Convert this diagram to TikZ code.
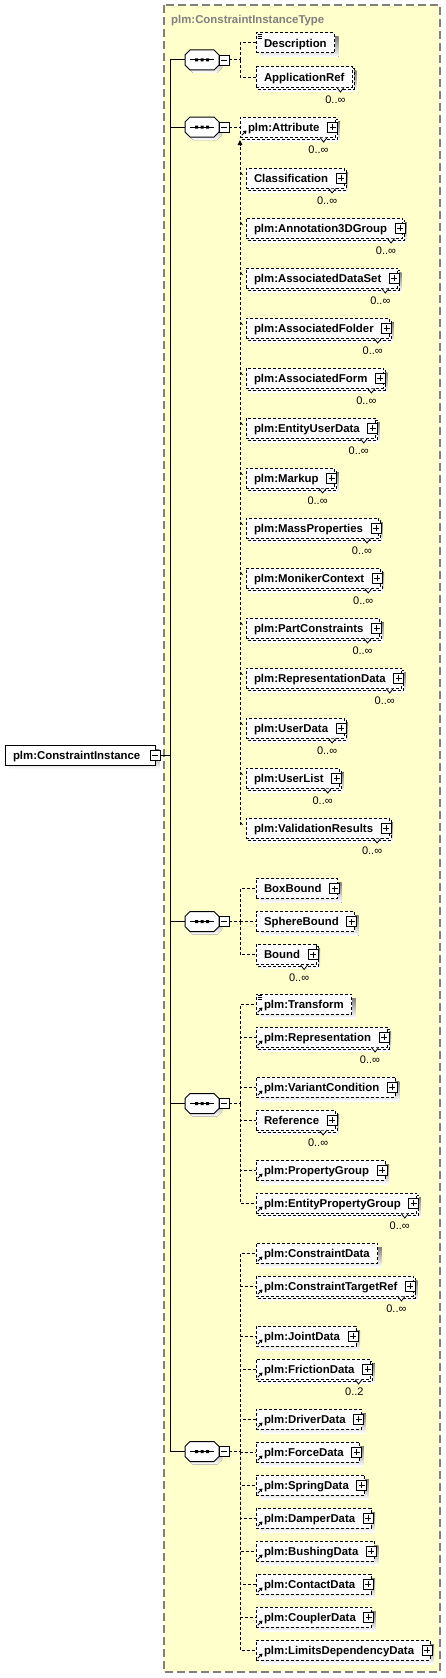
\documentclass[tikz,border=0pt]{standalone}
\usepackage{fontspec}
\setmainfont{Liberation Sans}
\usetikzlibrary{calc,arrows.meta}
\pgfdeclarelayer{bgyellow}
\pgfdeclarelayer{background}
\pgfsetlayers{bgyellow,background,main}
\definecolor{paleyellow}{RGB}{255,255,204}
\definecolor{shade}{RGB}{192,192,192}
\definecolor{framegray}{RGB}{128,128,128}

\newcommand\pp{\hspace*{8pt}}
\newcommand\shd[1]{\begin{pgfonlayer}{background}\fill[shade] ($(#1.north west)+(4,4)$) rectangle ($(#1.south east)+(4,4)$);\end{pgfonlayer}}
\newcommand\mul[2]{\begin{pgfonlayer}{background}
  \fill[shade] ($(#1.north west)+(4,4)$) rectangle ($(#1.south east)+(4,4)$);
  \draw[boxline,fill=white] ($(#1.north west)+(2,2)$) rectangle ($(#1.south east)+(2,2)$);
 \end{pgfonlayer}
 \draw[notch,fill=white] ($(#1.south east)+(-15.5,0.5)$) -- ($(#1.south east)+(-12,5)$) -- ($(#1.south east)+(-8.5,0.5)$);
 \node[occ] (#1-occ) at ($(#1.south east)+(-7,12.5)$) {#2};}
\newcommand\plusI[1]{\node[plusbox] (#1-p) at ($(#1.east)+(-3,0)$) {};}
\newcommand\refI[1]{\draw[line width=0.9pt] ($(#1.south west)+(1.8,-1.8)$) -- ($(#1.south west)+(4.5,-4.5)$);
 \fill ($(#1.south west)+(6.5,-6.5)$) -- ($(#1.south west)+(2.8,-5.8)$) -- ($(#1.south west)+(5.8,-2.8)$) -- cycle;}
\newcommand\simpI[1]{\draw[line width=0.7pt] ($(#1.north west)+(1.5,1.2)$) -- ++(4,0) ($(#1.north west)+(1.5,3.2)$) -- ++(4,0) ($(#1.north west)+(1.5,5.2)$) -- ++(4,0);}
\newcommand\tickI[1]{\draw[line width=0.7pt] ($(#1.north west)+(-5.5,4)$) -- ($(#1.north west)+(-3.5,7)$);}

\tikzset{
 x=1pt, y=-1pt,
 namefont/.style={font=\fontsize{11.4}{13}\selectfont\bfseries},
 boxline/.style={line width=1pt, dash pattern=on 3pt off 2pt},
 elem/.style={boxline, draw, fill=white, anchor=west, inner xsep=8pt, inner ysep=0pt, outer sep=0pt,
   minimum height=20pt, text height=10.2pt, text depth=2pt, namefont},
 mainbox/.style={draw, line width=1pt, fill=white, anchor=west, inner xsep=8pt, inner ysep=0pt, outer sep=0pt,
   minimum height=20pt, text height=10.2pt, text depth=2pt, namefont},
 occ/.style={anchor=east, inner sep=0pt, outer sep=0pt, text height=8pt, text depth=0pt, font=\fontsize{11}{13}\selectfont},
 notch/.style={line width=0.8pt},
 conn/.style={line width=1pt, dash pattern=on 3pt off 2pt},
 trunkline/.style={line width=1pt},
 plusbox/.style={draw, fill=white, line width=0.9pt, minimum size=10pt, inner sep=0pt, outer sep=0pt,
   path picture={\draw[line width=0.9pt] ([xshift=-3pt]path picture bounding box.center) -- ([xshift=3pt]path picture bounding box.center)
     ([yshift=-3pt]path picture bounding box.center) -- ([yshift=3pt]path picture bounding box.center);}},
 minusbox/.style={draw, fill=white, line width=0.9pt, minimum size=10pt, inner sep=0pt, outer sep=0pt,
   path picture={\draw[line width=0.9pt] ([xshift=-3pt]path picture bounding box.center) -- ([xshift=3pt]path picture bounding box.center);}},
 seq/.pic={
   \fill[shade] (8,-7) -- (32,-7) -- (37,-2) -- (37,8) -- (32,13) -- (8,13) -- (3,8) -- (3,-2) -- cycle;
   \node[inner sep=0pt, outer sep=0pt, minimum width=34pt, minimum height=20pt] (-oct) at (17,0) {};
   \draw[trunkline, fill=white] (5,-10) -- (29,-10) -- (34,-5) -- (34,5) -- (29,10) -- (5,10) -- (0,5) -- (0,-5) -- cycle;
   \draw[trunkline] (5,0) -- (29,0);
   \fill (10,-1.5) rectangle (13,1.5) (15.5,-1.5) rectangle (18.5,1.5) (21,-1.5) rectangle (24,1.5);
   \node[minusbox] (-m) at (39,0) {};
 }
}

\begin{document}
\begin{tikzpicture}
\useasboundingbox (0,0) rectangle (446,1678);
\begin{pgfonlayer}{bgyellow}
 \draw[framegray, line width=1.3pt, dash pattern=on 8pt off 4pt, fill=paleyellow] (164,5) rectangle (440,1672);
\end{pgfonlayer}
\node[anchor=base west, text=framegray, inner sep=0pt, namefont] (ctitle) at (171,23.5) {plm:ConstraintInstanceType};

% main element
\node[mainbox] (ci) at (5,755) {plm:ConstraintInstance\hspace*{7pt}};
\shd{ci}
\node[minusbox] (ci-m) at (ci.east) {};
\coordinate (trunk) at (170,755);

% compositors
\pic (g1) at (185,60) {seq};
\pic (g2) at (185,127) {seq};
\pic (g3) at (185,921.5) {seq};
\pic (g4) at (185,1103.5) {seq};
\pic (g5) at (185,1451.5) {seq};

\draw[trunkline] (ci-m.east) -- (trunk);
\draw[trunkline] (g1-oct.west -| trunk) -- (g5-oct.west -| trunk);
\foreach \g in {g1,g2,g3,g4,g5} {\draw[trunkline] (\g-oct.west -| trunk) -- (\g-oct.west);}

% group 1
\node[elem] (desc) at (256,43) {Description}; \shd{desc} \simpI{desc}
\node[elem] (appref) at (256,77) {ApplicationRef}; \mul{appref}{0..∞}
\coordinate (g1-bus) at (240,60);
\draw[conn] (g1-m.east) -- (g1-bus);
\draw[conn] (g1-bus) |- (desc.west);
\draw[conn] (g1-bus) |- (appref.west);

% group 2
\node[elem] (attr) at (240,127) {plm:Attribute\pp}; \mul{attr}{0..∞} \plusI{attr} \refI{attr}
\draw[conn] (g2-m.east) -- (attr.west);
\node[elem] (cls) at (246,178) {Classification\pp}; \mul{cls}{0..∞} \plusI{cls} \tickI{cls}
\node[elem] (ann) at (246,228) {plm:Annotation3DGroup\pp}; \mul{ann}{0..∞} \plusI{ann} \tickI{ann}
\node[elem] (ads) at (246,278) {plm:AssociatedDataSet\pp}; \mul{ads}{0..∞} \plusI{ads} \tickI{ads}
\node[elem] (afo) at (246,328) {plm:AssociatedFolder\pp}; \mul{afo}{0..∞} \plusI{afo} \tickI{afo}
\node[elem] (afm) at (246,378) {plm:AssociatedForm\pp}; \mul{afm}{0..∞} \plusI{afm} \tickI{afm}
\node[elem] (eud) at (246,428) {plm:EntityUserData\pp}; \mul{eud}{0..∞} \plusI{eud} \tickI{eud}
\node[elem] (mkp) at (246,478) {plm:Markup\pp}; \mul{mkp}{0..∞} \plusI{mkp} \tickI{mkp}
\node[elem] (mas) at (246,528) {plm:MassProperties\pp}; \mul{mas}{0..∞} \plusI{mas} \tickI{mas}
\node[elem] (mon) at (246,578) {plm:MonikerContext\pp}; \mul{mon}{0..∞} \plusI{mon} \tickI{mon}
\node[elem] (pcs) at (246,628) {plm:PartConstraints\pp}; \mul{pcs}{0..∞} \plusI{pcs} \tickI{pcs}
\node[elem] (rpd) at (246,678) {plm:RepresentationData\pp}; \mul{rpd}{0..∞} \plusI{rpd} \tickI{rpd}
\node[elem] (usd) at (246,728) {plm:UserData\pp}; \mul{usd}{0..∞} \plusI{usd} \tickI{usd}
\node[elem] (usl) at (246,778) {plm:UserList\pp}; \mul{usl}{0..∞} \plusI{usl} \tickI{usl}
\node[elem] (vres) at (246,828) {plm:ValidationResults\pp}; \mul{vres}{0..∞} \plusI{vres} \tickI{vres}
\coordinate (subst-top) at ($(attr.south west)+(0,3)$);
\coordinate (vr-level) at (vres.north west -| subst-top);
\coordinate (subst-end) at ($(vr-level)+(0,7)$);
\draw[conn, -{Triangle[length=5pt,width=4.5pt]}] (subst-end) -- (subst-top);

% group 3
\node[elem] (bbox) at (256,888.5) {BoxBound\pp}; \shd{bbox} \plusI{bbox}
\node[elem] (sbound) at (256,921.5) {SphereBound\pp}; \shd{sbound} \plusI{sbound}
\node[elem] (bound) at (256,954.5) {Bound\pp}; \mul{bound}{0..∞} \plusI{bound}
\coordinate (g3-bus) at (240,921.5);
\draw[conn] (g3-m.east) -- (g3-bus);
\foreach \c in {bbox,sbound,bound} {\draw[conn] (g3-bus) |- (\c.west);}

% group 4
\node[elem] (trf) at (256,1004) {plm:Transform}; \shd{trf} \simpI{trf} \refI{trf}
\node[elem] (rep) at (256,1037) {plm:Representation\pp}; \mul{rep}{0..∞} \plusI{rep} \refI{rep}
\node[elem] (vcond) at (256,1087) {plm:VariantCondition\pp}; \shd{vcond} \plusI{vcond} \refI{vcond}
\node[elem] (refe) at (256,1120) {Reference\pp}; \mul{refe}{0..∞} \plusI{refe}
\node[elem] (pgrp) at (256,1170) {plm:PropertyGroup\pp}; \shd{pgrp} \plusI{pgrp} \refI{pgrp}
\node[elem] (epg) at (256,1203) {plm:EntityPropertyGroup\pp}; \mul{epg}{0..∞} \plusI{epg} \refI{epg}
\coordinate (g4-bus) at (240,1103.5);
\draw[conn] (g4-m.east) -- (g4-bus);
\foreach \c in {trf,rep,vcond,refe,pgrp,epg} {\draw[conn] (g4-bus) |- (\c.west);}

% group 5
\node[elem] (cdat) at (256,1253) {plm:ConstraintData}; \shd{cdat} \refI{cdat}
\node[elem] (ctr) at (256,1286) {plm:ConstraintTargetRef\pp}; \mul{ctr}{0..∞} \plusI{ctr} \refI{ctr}
\node[elem] (jnt) at (256,1336) {plm:JointData\pp}; \shd{jnt} \plusI{jnt} \refI{jnt}
\node[elem] (frc) at (256,1369) {plm:FrictionData\pp}; \mul{frc}{0..2} \plusI{frc} \refI{frc}
\node[elem] (drv) at (256,1419) {plm:DriverData\pp}; \shd{drv} \plusI{drv} \refI{drv}
\node[elem] (fod) at (256,1452) {plm:ForceData\pp}; \shd{fod} \plusI{fod} \refI{fod}
\node[elem] (spr) at (256,1485) {plm:SpringData\pp}; \shd{spr} \plusI{spr} \refI{spr}
\node[elem] (dmp) at (256,1518) {plm:DamperData\pp}; \shd{dmp} \plusI{dmp} \refI{dmp}
\node[elem] (bsh) at (256,1551) {plm:BushingData\pp}; \shd{bsh} \plusI{bsh} \refI{bsh}
\node[elem] (cnt) at (256,1584) {plm:ContactData\pp}; \shd{cnt} \plusI{cnt} \refI{cnt}
\node[elem] (cpl) at (256,1617) {plm:CouplerData\pp}; \shd{cpl} \plusI{cpl} \refI{cpl}
\node[elem] (ldd) at (256,1650) {plm:LimitsDependencyData\pp}; \shd{ldd} \plusI{ldd} \refI{ldd}
\coordinate (g5-bus) at (240,1451.5);
\draw[conn] (g5-m.east) -- (g5-bus);
\foreach \c in {cdat,ctr,jnt,frc,drv,fod,spr,dmp,bsh,cnt,cpl,ldd} {\draw[conn] (g5-bus) |- (\c.west);}
\end{tikzpicture}
\end{document}
